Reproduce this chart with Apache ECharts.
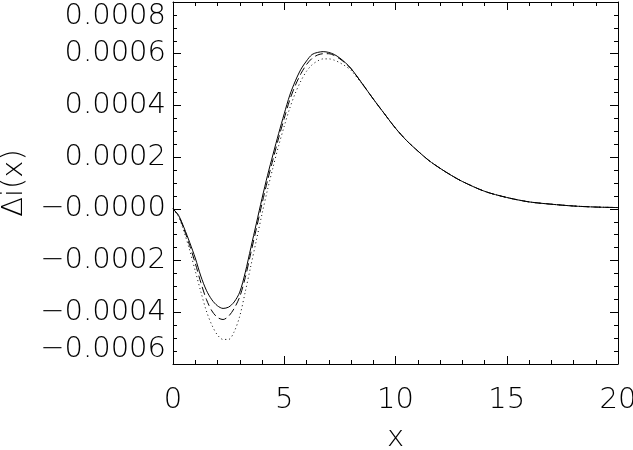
<!DOCTYPE html>
<html>
<head>
<meta charset="utf-8">
<script src="https://cdn.jsdelivr.net/npm/echarts@6/dist/echarts.min.js"></script>
<style>html,body{margin:0;padding:0;background:#fff}#c{width:633px;height:450px}</style>
</head>
<body>
<div id="c"></div>
<script>
const xs = [0,0.25,0.5,0.75,1,1.25,1.5,1.75,2,2.25,2.5,2.75,3,3.25,3.5,3.75,4,4.25,4.5,4.75,5,5.25,5.5,5.75,6,6.25,6.5,6.75,7,7.25,7.5,7.75,8,8.5,9,9.5,10,10.5,11,11.5,12,12.5,13,14,15,16,17,18,19,20];
// values in units of 1e-4
const solid = [0,-0.25,-0.74,-1.3,-1.9,-2.6,-3.15,-3.52,-3.75,-3.85,-3.8,-3.6,-3.22,-2.45,-1.5,-0.55,0.4,1.3,2.12,2.92,3.68,4.4,4.95,5.4,5.72,5.97,6.05,6.08,6.05,5.97,5.83,5.65,5.43,4.85,4.25,3.68,3.12,2.64,2.24,1.87,1.57,1.3,1.06,0.68,0.44,0.27,0.18,0.11,0.07,0.05];
const dashed = [0,-0.27,-0.8,-1.42,-2.1,-2.85,-3.5,-3.95,-4.2,-4.28,-4.15,-3.85,-3.4,-2.65,-1.7,-0.75,0.2,1.1,1.93,2.75,3.5,4.22,4.78,5.23,5.58,5.82,5.95,6.0,6.0,5.93,5.8,5.63,5.42,4.85,4.25,3.68,3.12,2.64,2.24,1.87,1.57,1.3,1.06,0.68,0.44,0.27,0.18,0.11,0.07,0.05];
const dotted = [0,-0.3,-0.9,-1.6,-2.4,-3.2,-3.95,-4.5,-4.88,-5.05,-5.05,-4.75,-4.15,-3.2,-2.2,-1.2,-0.2,0.75,1.62,2.45,3.2,3.9,4.48,4.95,5.32,5.57,5.72,5.8,5.8,5.75,5.65,5.52,5.36,4.83,4.25,3.68,3.12,2.64,2.24,1.87,1.57,1.3,1.06,0.68,0.44,0.27,0.18,0.11,0.07,0.05];
const yTickValues = [0.0008,0.0006,0.0004,0.0002,0,-0.0002,-0.0004,-0.0006];
const yTickLabels = ['0.0008','0.0006','0.0004','0.0002','\u22120.0000','\u22120.0002','\u22120.0004','\u22120.0006'];
const xTickValues = [0,5,10,15,20];
const xTickLabels = ['0','5','10','15','20'];

const FONT = 'DejaVu Sans';
const lab = {fontFamily: FONT, fontWeight: 200, fontSize: 29, color: '#000'};
function pairs(v){ return xs.map((x,i)=>[x, v[i]*1e-4]); }
function yLab(v){ for(let i=0;i<yTickValues.length;i++){ if(Math.abs(v-yTickValues[i])<1e-9) return yTickLabels[i]; } return ''; }
function xLab(v){ const i = xTickValues.indexOf(v); return i>=0 ? xTickLabels[i] : ''; }

const axisCommon = {
  axisLine: {show: true, onZero: false, lineStyle: {color: '#000', width: 1}},
  axisTick: {show: true, inside: true, length: 8, lineStyle: {color: '#000'}},
  splitLine: {show: false}
};

const chart = echarts.init(document.getElementById('c'), null, {renderer: 'canvas'});
chart.setOption({
  animation: false,
  backgroundColor: '#fff',
  grid: {left: 173, right: 15, top: 2, bottom: 86, containLabel: false, outerBoundsMode: 'none'},
  xAxis: [
    Object.assign({type: 'value', position: 'bottom', min: 0, max: 20, interval: 5,
      name: 'x', nameLocation: 'middle', nameGap: 60,
      nameTextStyle: Object.assign({}, lab),
      axisLabel: Object.assign({margin: 22, formatter: xLab}, lab)}, axisCommon,
      {minorTick: {show: true, splitNumber: 5, length: 4, lineStyle: {color: '#000'}}}),
    Object.assign({type: 'value', position: 'top', min: 0, max: 20, interval: 5,
      axisLabel: {show: false}}, axisCommon,
      {minorTick: {show: true, splitNumber: 5, length: 4, lineStyle: {color: '#000'}}})
  ],
  yAxis: [
    Object.assign({type: 'value', position: 'left', min: -0.0006, max: 0.0008, interval: 0.0002,
      name: '\u0394i(x)', nameLocation: 'middle', nameGap: 134, nameRotate: 90,
      nameTextStyle: Object.assign({}, lab),
      axisLabel: Object.assign({margin: 7, formatter: yLab, verticalAlignMinLabel: 'bottom', verticalAlignMaxLabel: 'top'}, lab)}, axisCommon,
      {minorTick: {show: true, splitNumber: 4, length: 4, lineStyle: {color: '#000'}}}),
    Object.assign({type: 'value', position: 'right', min: -0.0006, max: 0.0008, interval: 0.0002,
      axisLabel: {show: false}}, axisCommon,
      {minorTick: {show: true, splitNumber: 4, length: 4, lineStyle: {color: '#000'}}})
  ],
  series: [
    {type: 'line', data: pairs(solid), smooth: 0.3, showSymbol: false, lineStyle: {color: '#000', width: 1, type: 'solid'}},
    {type: 'line', data: pairs(dashed), smooth: 0.3, showSymbol: false, lineStyle: {color: '#000', width: 1, type: [8,4]}},
    {type: 'line', data: pairs(dotted), smooth: 0.3, showSymbol: false, lineStyle: {color: '#000', width: 1, type: [1,3]}}
  ]
});
</script>
</body>
</html>
